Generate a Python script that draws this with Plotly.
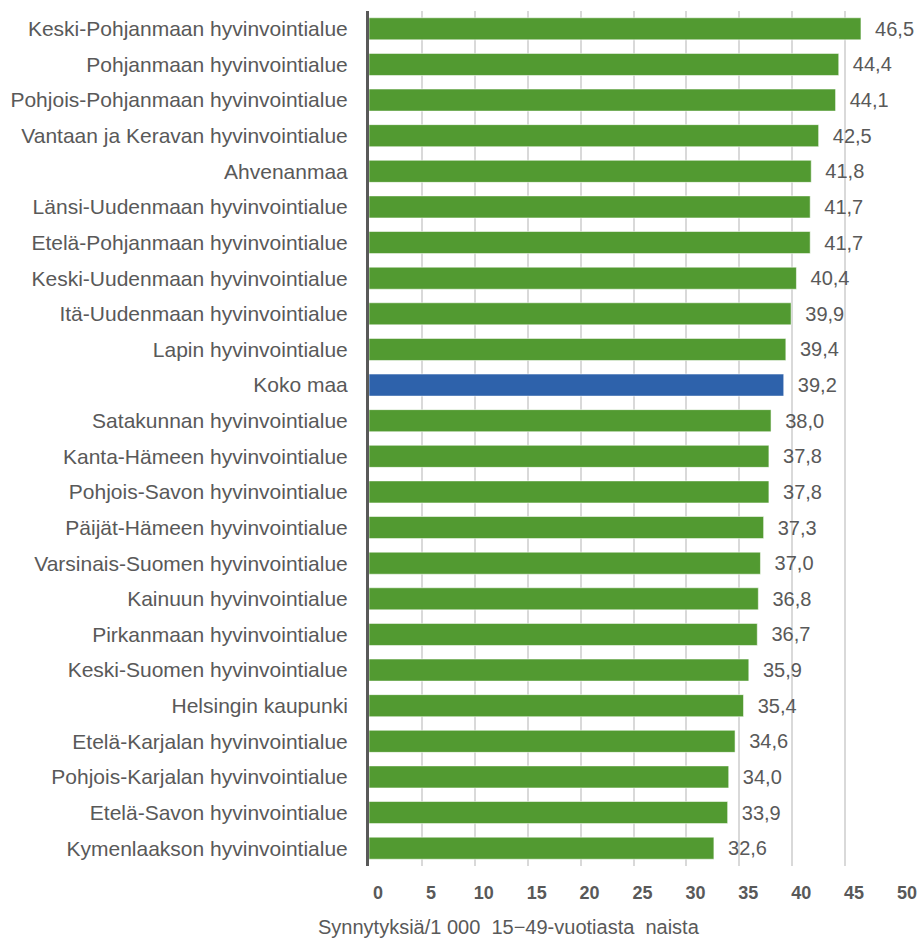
import plotly.graph_objects as go

categories = [
    "Keski-Pohjanmaan hyvinvointialue",
    "Pohjanmaan hyvinvointialue",
    "Pohjois-Pohjanmaan hyvinvointialue",
    "Vantaan ja Keravan hyvinvointialue",
    "Ahvenanmaa",
    "Länsi-Uudenmaan hyvinvointialue",
    "Etelä-Pohjanmaan hyvinvointialue",
    "Keski-Uudenmaan hyvinvointialue",
    "Itä-Uudenmaan hyvinvointialue",
    "Lapin hyvinvointialue",
    "Koko maa",
    "Satakunnan hyvinvointialue",
    "Kanta-Hämeen hyvinvointialue",
    "Pohjois-Savon hyvinvointialue",
    "Päijät-Hämeen hyvinvointialue",
    "Varsinais-Suomen hyvinvointialue",
    "Kainuun hyvinvointialue",
    "Pirkanmaan hyvinvointialue",
    "Keski-Suomen hyvinvointialue",
    "Helsingin kaupunki",
    "Etelä-Karjalan hyvinvointialue",
    "Pohjois-Karjalan hyvinvointialue",
    "Etelä-Savon hyvinvointialue",
    "Kymenlaakson hyvinvointialue",
]
values = [46.5, 44.4, 44.1, 42.5, 41.8, 41.7, 41.7, 40.4, 39.9, 39.4, 39.2,
          38.0, 37.8, 37.8, 37.3, 37.0, 36.8, 36.7, 35.9, 35.4, 34.6, 34.0,
          33.9, 32.6]
highlight = "Koko maa"
x_ticks = [0, 5, 10, 15, 20, 25, 30, 35, 40, 45, 50]
x_title = "Synnytyksiä/1 000  15−49-vuotiasta  naista"

GREEN = "#529a31"
BLUE = "#2e62ab"
GREY = "#595959"
colors = [BLUE if c == highlight else GREEN for c in categories]

fig = go.Figure(
    go.Bar(
        x=values,
        y=categories,
        orientation="h",
        marker=dict(color=colors, line=dict(color="rgba(255,255,255,0.55)", width=1)),
        texttemplate="\u00a0\u00a0%{x:.1f}",
        textposition="outside",
        textfont=dict(family="Liberation Sans, Arial, sans-serif", size=20, color=GREY),
        cliponaxis=False,
        hoverinfo="skip",
    )
)

fig.update_layout(
    width=920,
    height=939,
    margin=dict(l=369, r=22, t=11, b=73, autoexpand=False),
    paper_bgcolor="white",
    plot_bgcolor="white",
    separators=", ",
    bargap=0.38,
    showlegend=False,
    font=dict(family="Liberation Sans, Arial, sans-serif", color=GREY),
)

fig.update_xaxes(
    range=[0, 50],
    tickvals=x_ticks,
    ticktext=[str(t) for t in x_ticks],
    showgrid=True,
    gridcolor="#d9d9d9",
    gridwidth=2,
    zeroline=False,
    showline=False,
    ticks="",
    tickfont=dict(family="Liberation Sans Narrow, Liberation Sans, Arial, sans-serif",
                  size=18, color=GREY, weight="bold"),
    ticklabelshift=9,
    ticklabelstandoff=14,
    automargin=False,
    fixedrange=True,
)

fig.update_yaxes(
    autorange="reversed",
    showgrid=False,
    showline=True,
    linecolor=GREY,
    linewidth=3,
    ticks="",
    ticklabelstandoff=14,
    automargin=False,
    tickfont=dict(family="Liberation Sans, Arial, sans-serif", size=21, color=GREY),
    fixedrange=True,
)

fig.add_annotation(
    text=x_title,
    xref="paper",
    yref="paper",
    x=0.264,
    y=0,
    yshift=-61,
    xanchor="center",
    yanchor="middle",
    showarrow=False,
    font=dict(family="Liberation Sans Narrow, Liberation Sans, Arial, sans-serif",
              size=20, color=GREY),
)

fig.write_html(
    "out.html",
    config={"displayModeBar": False},
    post_script="document.body.style.margin='0';document.body.style.overflow='hidden';",
)
